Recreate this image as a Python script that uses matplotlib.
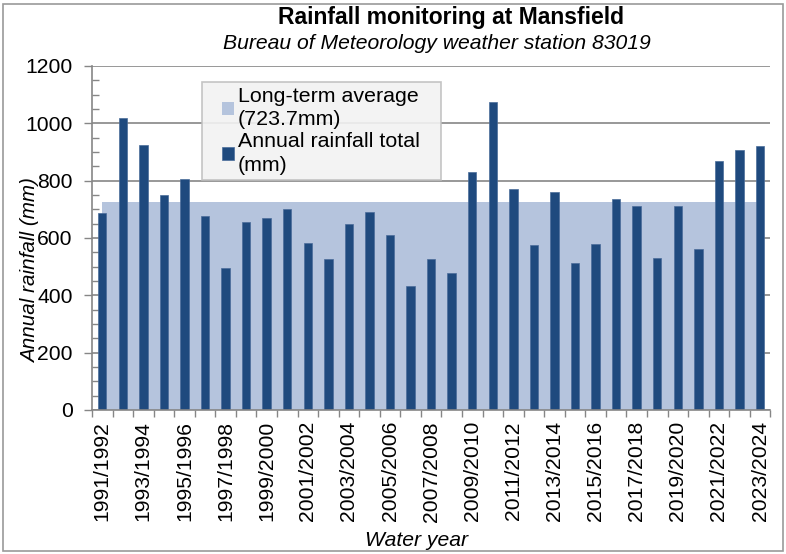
import numpy as np
import matplotlib
matplotlib.use("Agg")
import matplotlib.pyplot as plt
from matplotlib.patches import Rectangle
from matplotlib.ticker import MultipleLocator

plt.rcParams['font.family'] = ['Liberation Sans', 'DejaVu Sans']

years = [f"{y}/{y + 1}" for y in range(1991, 2024)]
rainfall = [687, 1019, 924, 749, 805, 677, 494, 657, 669, 701, 583,
            528, 649, 691, 612, 433, 526, 477, 829, 1075, 771, 575,
            759, 513, 579, 735, 713, 529, 712, 562, 867, 906, 922]
long_term_avg = 723.7

bar_color = '#1f4a7e'
band_color = '#b5c4dd'
axis_grey = '#868686'

fig = plt.figure(figsize=(7.86, 5.54), dpi=100)
ax = fig.add_axes([0.117, 0.260, 0.863, 0.621])

x = np.arange(len(years))
ax.fill_between(x, 0, long_term_avg, color=band_color, lw=0, zorder=1,
                label='Long-term average\n(723.7mm)')
ax.bar(x, rainfall, width=0.41, color=bar_color, edgecolor='#4a6c9a',
       linewidth=0.5, zorder=2, label='Annual rainfall total\n(mm)')

ax.set_xlim(-0.5, len(years) - 0.5)
ax.set_ylim(0, 1200)
ax.yaxis.set_major_locator(MultipleLocator(200))
ax.yaxis.set_minor_locator(MultipleLocator(50))
ax.grid(axis='y', which='major', color=axis_grey, lw=1.2, zorder=0)
ax.set_axisbelow(True)

# category boundaries carry the tick marks, labels on every second year
ax.set_xticks(np.arange(-0.5, len(years), 1))
ax.set_xticklabels([])
ax.set_xticks(x[::2], minor=True)
ax.set_xticklabels(years[::2], minor=True, rotation=90, fontsize=15.2)
ax.tick_params(axis='x', which='major', length=5, color=axis_grey, width=1)
ax.tick_params(axis='x', which='minor', length=0, pad=8)
ax.tick_params(axis='y', which='major', length=6, color=axis_grey, width=1,
               labelsize=15.2, pad=8)
ax.tick_params(axis='y', which='minor', direction='in', length=5,
               color=axis_grey, width=1)

for side in ['top', 'right']:
    ax.spines[side].set_visible(False)
for side in ['left', 'bottom']:
    ax.spines[side].set_color(axis_grey)
    ax.spines[side].set_linewidth(1.2)

ax.set_ylabel('Annual rainfall (mm)', fontsize=14.9, style='italic')
ax.yaxis.set_label_coords(-0.077, 0.404)
ax.set_xlabel('Water year', fontsize=15.2, style='italic')
ax.xaxis.set_label_coords(0.478, -0.352)

fig.text(0.574, 0.968, 'Rainfall monitoring at Mansfield', ha='center',
         va='center', fontsize=16.5, fontweight='bold')
fig.text(0.556, 0.922, 'Bureau of Meteorology weather station 83019',
         ha='center', va='center', fontsize=15.2, style='italic')

# legend box drawn separately so it can be wider than the entries
fig.patches.append(Rectangle((0.257, 0.675), 0.304, 0.177, transform=fig.transFigure,
                             facecolor='#f2f2f2', edgecolor='#bfbfbf', lw=1.2,
                             alpha=0.9, zorder=3))
leg = fig.legend(*ax.get_legend_handles_labels(), loc='upper left',
                 bbox_to_anchor=(0.283, 0.843), fontsize=15.4, frameon=False,
                 handlelength=0.56, handleheight=0.56, handletextpad=0.15,
                 borderpad=0, labelspacing=0.12, borderaxespad=0)
for t in leg.get_texts():
    t.set_linespacing(1.3)
leg.set_zorder(4)

fig.patches.append(Rectangle((0.004, 0.005), 0.992, 0.988, transform=fig.transFigure,
                             fill=False, edgecolor='#9a9a9a', lw=1.2))

fig.savefig('out.png', dpi=100)
